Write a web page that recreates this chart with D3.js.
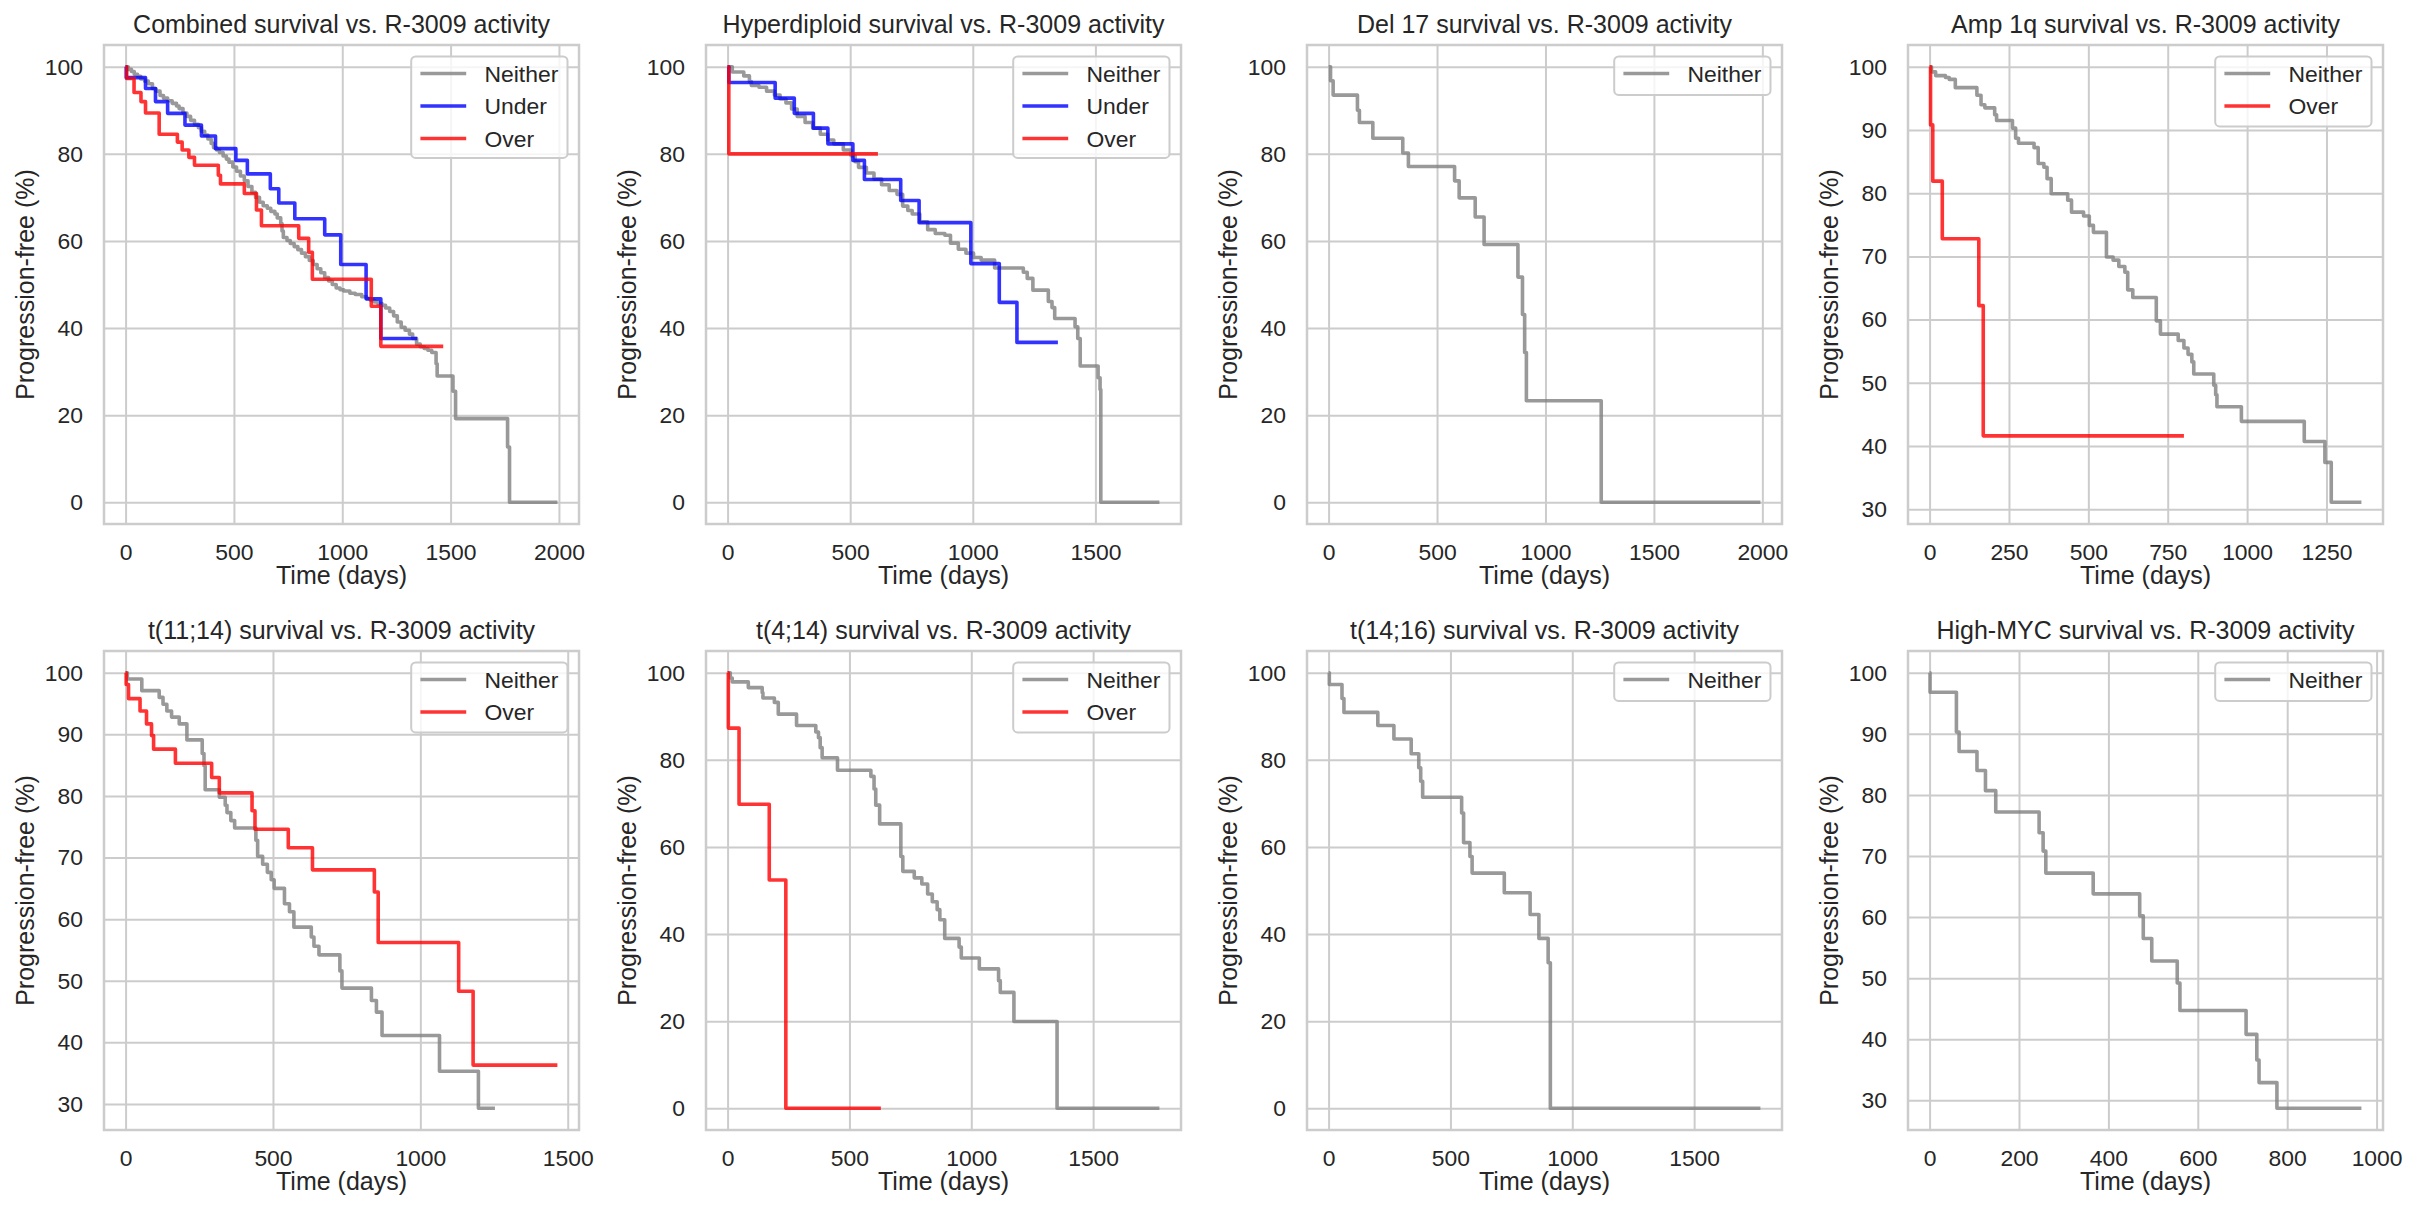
<!DOCTYPE html>
<html>
<head>
<meta charset="utf-8">
<script src="https://cdn.jsdelivr.net/npm/d3@7"></script>
<style>
  body { margin: 0; background: #fff; }
  svg text { font-family: "Liberation Sans", Arial, sans-serif; fill: #262626; }
</style>
</head>
<body>
<svg id="chart" width="2418" height="1218"></svg>
<script>
// Kaplan-Meier steps, [day, progression-free %] (value holds from that day on)
const combinedNeither = [[0,100],[12,99.4],[27,98.9],[40,98.3],[55,97.8],[70,97.2],[88,96.7],[105,96.1],[124,95.0],[140,94.4],[159,93.4],[175,92.8],[194,92.2],[215,91.6],[235,91.0],[247,90.4],[265,89.4],[283,88.6],[300,87.7],[318,86.8],[336,86.0],[350,85.2],[365,84.3],[380,83.4],[395,82.4],[406,81.4],[420,80.9],[433,80.3],[450,79.5],[465,78.8],[477,78.1],[495,77.0],[512,76.0],[530,74.9],[548,73.8],[565,72.5],[583,71.2],[600,70.0],[618,68.9],[635,68.1],[654,67.5],[670,66.8],[689,66.2],[700,65.3],[716,64.0],[722,62.3],[728,60.8],[745,60.1],[760,59.4],[778,58.7],[795,58.0],[812,57.2],[830,56.4],[848,55.5],[866,54.6],[884,53.6],[901,52.7],[919,51.6],[937,50.8],[954,50.0],[972,49.2],[990,48.8],[1007,48.5],[1035,48.0],[1060,47.7],[1090,47.2],[1113,46.8],[1130,46.4],[1148,46.0],[1165,45.6],[1184,45.2],[1200,44.6],[1219,43.8],[1237,42.8],[1254,41.4],[1272,40.2],[1290,39.5],[1310,38.6],[1325,37.6],[1343,36.3],[1360,35.7],[1378,35.3],[1395,34.9],[1413,34.4],[1433,31.8],[1438,29.0],[1511,25.5],[1523,19.2],[1763,12.7],[1772,0],[1993,0]];
const combinedUnder = [[0,100],[3,97.5],[92,95.0],[138,92.0],[194,89.3],[274,86.6],[350,84.1],[415,81.2],[509,78.5],[562,75.4],[668,72.0],[707,68.7],[781,65.1],[919,61.4],[993,54.6],[1110,46.7],[1178,37.6],[1346,37.6]];
const combinedOver = [[0,100],[5,97.3],[39,94.1],[71,92.0],[92,89.4],[155,84.5],[239,82.7],[261,80.9],[292,79.2],[318,77.4],[428,75.1],[438,73.1],[548,70.9],[604,67.1],[627,63.5],[799,60.6],[845,57.4],[862,51.2],[1134,45.0],[1178,35.8],[1466,35.8]];

const hyperNeither = [[0,100],[19,98.8],[66,97.9],[89,96.6],[97,95.7],[128,95.3],[159,94.4],[191,93.5],[214,92.6],[238,91.7],[261,90.3],[284,88.6],[316,87.2],[347,85.9],[378,84.5],[409,83.2],[433,82.3],[472,80.9],[503,79.6],[520,78.2],[534,76.9],[566,75.6],[597,74.2],[628,72.9],[659,71.6],[691,70.7],[714,68.0],[735,67.0],[753,66.2],[784,64.4],[816,62.6],[847,61.7],[886,61.3],[909,59.5],[941,58.1],[972,57.2],[1003,56.2],[1034,55.6],[1089,53.8],[1206,52.8],[1222,51.4],[1245,48.7],[1308,46.1],[1323,44.7],[1334,42.2],[1417,40.3],[1428,37.6],[1438,31.3],[1511,28.6],[1519,25.9],[1522,0],[1761,0]];
const hyperUnder = [[0,100],[5,96.4],[194,92.8],[272,89.3],[350,85.9],[409,82.3],[511,78.5],[558,74.1],[706,69.3],[781,64.2],[992,54.8],[1108,45.9],[1180,36.7],[1347,36.7]];
const hyperOver = [[0,100],[5,80],[613,80]];

const del17Neither = [[0,100],[9,96.8],[21,93.5],[133,90.0],[142,87.2],[204,83.6],[342,80.2],[368,77.1],[581,73.8],[602,69.9],[676,65.5],[717,59.2],[873,51.7],[894,43.1],[904,34.4],[912,23.3],[1257,0],[1991,0]];

const amp1qNeither = [[0,100],[6,99.2],[19,98.6],[50,98.3],[62,98.0],[81,96.7],[149,95.5],[162,94.0],[174,93.5],[205,92.4],[211,91.5],[261,90.3],[271,88.7],[280,87.9],[329,87.2],[342,84.7],[360,84.1],[370,82.3],[383,79.9],[435,78.9],[447,77.0],[485,76.4],[503,74.9],[516,73.8],[557,69.9],[578,69.4],[596,68.4],[615,67.5],[624,64.7],[640,63.5],[714,59.8],[727,57.7],[783,56.7],[801,55.5],[814,54.5],[826,53.3],[832,51.4],[895,49.6],[901,48.1],[905,46.2],[982,43.9],[1180,40.7],[1245,37.4],[1265,31.1],[1360,31.1]];
const amp1qOver = [[0,100],[3,90.8],[10,81.9],[40,72.8],[155,62.2],[169,41.6],[801,41.6]];

const t1114Neither = [[0,100],[6,99.0],[55,97.1],[114,96.0],[127,94.9],[140,93.8],[156,92.8],[182,91.7],[208,89.1],[260,86.9],[266,84.9],[270,81.0],[318,79.8],[338,78.5],[344,77.3],[357,76.0],[370,74.8],[442,72.8],[448,70.2],[465,68.9],[481,67.6],[494,66.4],[504,65.0],[539,62.5],[556,61.2],[571,58.7],[630,57.1],[639,55.6],[656,54.2],[727,51.6],[734,48.8],[834,46.8],[851,44.9],[870,41.1],[1065,35.3],[1197,29.3],[1253,29.3]];
const t1114Over = [[0,100],[2,98.1],[10,95.8],[49,93.8],[71,91.7],[88,89.8],[95,87.6],[169,85.3],[292,83.0],[318,80.5],[429,77.6],[439,74.6],[552,71.6],[634,68.0],[844,64.4],[857,56.2],[1130,48.3],[1179,36.3],[1465,36.3]];

const t414Neither = [[0,100],[11,98.8],[19,97.9],[85,96.6],[142,95.4],[145,94.2],[192,93.2],[208,90.5],[283,87.9],[362,86.4],[373,85.1],[380,82.8],[388,80.5],[451,77.6],[588,76.2],[601,73.3],[608,69.6],[624,65.3],[711,57.8],[719,54.4],[766,52.9],[797,51.5],[821,49.2],[840,47.4],[860,45.6],[871,43.3],[891,39.0],[950,37.0],[959,34.5],[1033,32.0],[1112,29.3],[1119,26.6],[1175,19.9],[1352,0],[1772,0]];
const t414Over = [[0,100],[3,87.3],[47,69.8],[171,52.4],[239,0],[629,0]];

const t1416Neither = [[0,100],[3,97.3],[55,94.1],[63,90.9],[202,87.9],[268,84.8],[339,81.4],[370,78.2],[378,75.1],[386,71.4],[546,67.8],[554,61.0],[580,57.8],[589,54.0],[721,49.5],[827,44.5],[863,39.0],[901,33.4],[910,0],[1772,0]];

const mycNeither = [[0,100],[1,96.8],[60,90.3],[66,87.1],[106,84.0],[125,80.7],[148,77.2],[245,73.8],[254,70.8],[260,67.2],[366,63.8],[470,60.2],[478,56.5],[497,52.8],[554,49.2],[560,44.7],[708,40.8],[732,36.6],[737,32.9],[777,28.7],[966,28.7]];

// tick labels
const xTicks2000 = [0, 500, 1000, 1500, 2000];
const xTicks1500 = [0, 500, 1000, 1500];
const xTicks1250 = [0, 250, 500, 750, 1000, 1250];
const xTicks1000 = [0, 200, 400, 600, 800, 1000];
const yTicksFull = [0, 20, 40, 60, 80, 100];
const yTicksUpper = [30, 40, 50, 60, 70, 80, 90, 100];

const colors = { Neither: "#808080", Under: "#0000ff", Over: "#ff0000" };

const panels = [
  { title: "Combined survival vs. R-3009 activity", series: [["Neither", combinedNeither], ["Under", combinedUnder], ["Over", combinedOver]], xt: xTicks2000, yt: yTicksFull },
  { title: "Hyperdiploid survival vs. R-3009 activity", series: [["Neither", hyperNeither], ["Under", hyperUnder], ["Over", hyperOver]], xt: xTicks1500, yt: yTicksFull },
  { title: "Del 17 survival vs. R-3009 activity", series: [["Neither", del17Neither]], xt: xTicks2000, yt: yTicksFull },
  { title: "Amp 1q survival vs. R-3009 activity", series: [["Neither", amp1qNeither], ["Over", amp1qOver]], xt: xTicks1250, yt: yTicksUpper },
  { title: "t(11;14) survival vs. R-3009 activity", series: [["Neither", t1114Neither], ["Over", t1114Over]], xt: xTicks1500, yt: yTicksUpper },
  { title: "t(4;14) survival vs. R-3009 activity", series: [["Neither", t414Neither], ["Over", t414Over]], xt: xTicks1500, yt: yTicksFull },
  { title: "t(14;16) survival vs. R-3009 activity", series: [["Neither", t1416Neither]], xt: xTicks1500, yt: yTicksFull },
  { title: "High-MYC survival vs. R-3009 activity", series: [["Neither", mycNeither]], xt: xTicks1000, yt: yTicksUpper }
];

const svg = d3.select("#chart");
const colLeft = [104, 706, 1307, 1908],
      rowTop = [45, 651],
      W = 475, H = 479,
      tickFont = 22.9, labelFont = 25;

panels.forEach((p, i) => {
    const g = svg.append("g")
        .attr("transform", `translate(${colLeft[i % 4]},${rowTop[Math.floor(i / 4)]})`);

    const pts = p.series.flatMap(s => s[1]);
    const xMax = d3.max(pts, d => d[0]),
          yMin = d3.min(pts, d => d[1]),
          yPad = (100 - yMin) * 0.05;

    const x = d3.scaleLinear().domain([-0.05 * xMax, 1.05 * xMax]).range([0, W]);
    const y = d3.scaleLinear().domain([yMin - yPad, 100 + yPad]).range([H, 0]);

    // grid + tick labels
    const xa = g.append("g")
        .attr("transform", `translate(0,${H})`)
        .call(d3.axisBottom(x).tickValues(p.xt).tickSize(-H).tickPadding(19.7).tickFormat(d3.format("d")));
    const ya = g.append("g")
        .call(d3.axisLeft(y).tickValues(p.yt).tickSize(-W).tickPadding(21).tickFormat(d3.format("d")));
    [xa, ya].forEach(a => {
        a.select(".domain").remove();
        a.selectAll("line").attr("stroke", "#cccccc").attr("stroke-width", 2);
        a.selectAll("text").attr("font-size", tickFont).attr("fill", "#262626")
            .style("font-family", '"Liberation Sans", Arial, sans-serif');
    });

    g.append("rect")
        .attr("width", W).attr("height", H)
        .attr("fill", "none").attr("stroke", "#cccccc").attr("stroke-width", 2.5);

    const line = d3.line()
        .x(d => x(d[0]))
        .y(d => y(d[1]))
        .curve(d3.curveStepAfter);

    p.series.forEach(([name, vals]) => {
        g.append("path")
            .datum(vals)
            .attr("d", line)
            .attr("fill", "none")
            .attr("stroke", colors[name])
            .attr("stroke-opacity", 0.8)
            .attr("stroke-width", 3.6)
            .attr("stroke-linejoin", "round");
    });

    g.append("text")
        .attr("x", W / 2).attr("y", -12)
        .attr("text-anchor", "middle")
        .attr("font-size", labelFont)
        .text(p.title);

    g.append("text")
        .attr("x", W / 2).attr("y", H + 60)
        .attr("text-anchor", "middle")
        .attr("font-size", labelFont)
        .text("Time (days)");

    g.append("text")
        .attr("transform", `translate(-70,${H / 2}) rotate(-90)`)
        .attr("text-anchor", "middle")
        .attr("font-size", labelFont)
        .text("Progression-free (%)");

    // legend
    const n = p.series.length;
    const leg = g.append("g");
    const box = leg.append("rect");
    const texts = [];
    p.series.forEach(([name], k) => {
        const t = leg.append("text")
            .attr("x", 73.3).attr("y", 25 + k * 32.5)
            .attr("font-size", tickFont)
            .text(name);
        texts.push(t);
        leg.append("line")
            .attr("x1", 9.2).attr("x2", 55)
            .attr("y1", 17 + k * 32.5).attr("y2", 17 + k * 32.5)
            .attr("stroke", colors[name])
            .attr("stroke-opacity", 0.8)
            .attr("stroke-width", 3.6);
    });
    const tw = d3.max(texts, t => t.node().getComputedTextLength());
    const bw = 73.3 + tw + 9.2,
          bh = 18.4 + n * 20 + (n - 1) * 11.5;
    box.attr("width", bw).attr("height", bh)
        .attr("rx", 4.5)
        .attr("fill", "#ffffff").attr("fill-opacity", 0.8)
        .attr("stroke", "#cccccc").attr("stroke-width", 2);
    leg.attr("transform", `translate(${W - 11.5 - bw},11.5)`);
});
</script>
</body>
</html>
